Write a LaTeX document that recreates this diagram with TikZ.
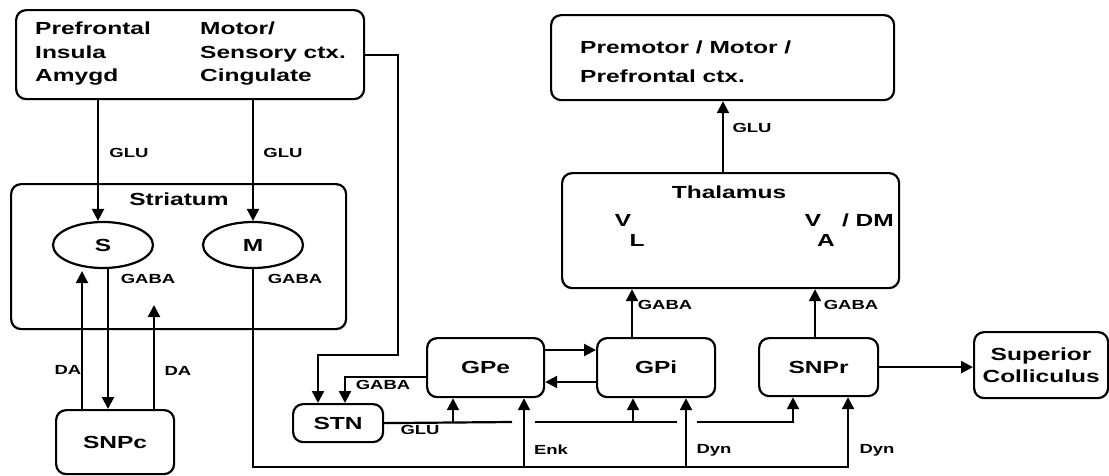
\documentclass[tikz,border=0pt]{standalone}
\usepackage{fontspec}
\setmainfont{Liberation Sans}[FakeStretch=1.4]
\usetikzlibrary{arrows.meta,shapes.geometric}
\newcommand{\bigt}{\fontsize{17.5}{23.5}\selectfont\bfseries}
\newcommand{\smt}{\fontsize{13.2}{14}\selectfont\bfseries}
\begin{document}
\begin{tikzpicture}[x=1pt,y=-1pt,
  box/.style={draw, line width=2.2pt, rounded corners=10pt, anchor=north west, inner sep=0pt, font=\bigt, align=center},
  ell/.style={draw, ellipse, line width=2.2pt, minimum width=100pt, minimum height=46pt, inner sep=0pt, font=\bigt},
  txt/.style={inner sep=0pt, font=\bigt},
  lab/.style={inner sep=0pt, font=\smt},
  ln/.style={line width=2.2pt},
  ar/.style={ln, -{Triangle[length=12pt,width=12pt]}}]
\useasboundingbox (0,0) rectangle (1109,475);
% boxes
\node[box, minimum width=348pt, minimum height=89pt] (cortex) at (15,9) {};
\node[txt, anchor=west, align=left] (ctxl) at (35,54) {Prefrontal\\Insula\\Amygd};
\node[txt, anchor=west, align=left] (ctxr) at (200,54) {Motor/\\Sensory ctx.\\Cingulate};
\node[box, minimum width=335pt, minimum height=145pt] (str) at (10,183) {};
\node[txt] (strt) at (179,199) {Striatum};
\node[ell] (S) at (103,245) {S};
\node[ell] (M) at (253,245) {M};
\node[box, minimum width=118pt, minimum height=64pt] (snpc) at (55,409) {SNPc};
\node[box, minimum width=90pt, minimum height=38pt] (stn) at (292,403) {STN};
\node[box, minimum width=117pt, minimum height=59pt] (gpe) at (426,337) {GPe};
\node[box, minimum width=118pt, minimum height=59pt] (gpi) at (596,337) {GPi};
\node[box, minimum width=119pt, minimum height=58pt] (snpr) at (758,337) {SNPr};
\node[box, minimum width=134pt, minimum height=66pt] (sc) at (973,331) {Superior\\[-1pt]Colliculus};
\node[box, minimum width=337pt, minimum height=115pt] (thal) at (561,172) {};
\node[txt] (thalt) at (729,192) {Thalamus};
\node[txt] (v1) at (623,220) {V};
\node[txt] (l1) at (637,240) {L};
\node[txt] (v2) at (813,220) {V};
\node[txt] (dm) at (868,220) {/ DM};
\node[txt] (a2) at (826,240) {A};
\node[box, minimum width=343pt, minimum height=85pt] (pm) at (550,14) {};
\node[txt, anchor=west] (pm1) at (580,47) {Premotor / Motor /};
\node[txt, anchor=west] (pm2) at (580,76) {Prefrontal ctx.};
% labels
\node[lab] (glu1) at (129,153) {GLU};
\node[lab] (glu2) at (283,153) {GLU};
\node[lab] (glu3) at (752,128) {GLU};
\node[lab] (gabas) at (148,279) {GABA};
\node[lab] (gabam) at (295,279) {GABA};
\node[lab] (da1) at (68,370) {DA};
\node[lab] (da2) at (178,371) {DA};
\node[lab] (gabastn) at (383,385) {GABA};
\node[lab] (glustn) at (420,430) {GLU};
\node[lab] (enk) at (551,450) {Enk};
\node[lab] (dyn1) at (714,450) {Dyn};
\node[lab] (dyn2) at (877,450) {Dyn};
\node[lab] (gabat1) at (665,305) {GABA};
\node[lab] (gabat2) at (851,305) {GABA};
% connectors
\draw[ar] (cortex.south -| 98,0) -- (S.north -| 98,0);
\draw[ar] (cortex.south -| M.north) -- (M.north);
\draw[ar] (cortex.east) -| (398,355) -| (stn.north -| 318,0);
\draw[ar] (gpe.west |- 0,377) -| (stn.north -| 345,0);
\draw[ar] (gpe.east |- 0,350) -- (gpi.west |- 0,350);
\draw[ar] (gpi.west |- 0,382) -- (gpe.east |- 0,382);
\draw[ln] (stn.east) -- (512,422);
\draw[ar] (453,422) -- (gpe.south -| 453,0);
\draw[ln] (535,422) -- (677,422);
\draw[ar] (633,422) -- (gpi.south -| 633,0);
\draw[ar] (697,422) -| (snpr.south -| 793,0);
\draw[ar] (M.south) |- (848,467) -- (snpr.south -| 848,0);
\draw[ar] (524,467) -- (gpe.south -| 524,0);
\draw[ar] (686,467) -- (gpi.south -| 686,0);
\draw[ar] (S.south -| 108,0) -- (snpc.north -| 108,0);
\draw[ar, shorten >=2pt] (snpc.north -| 82,0) -- (S.south -| 82,0);
\coordinate (datip) at (154,305);
\draw[ar] (snpc.north -| datip) -- (datip);
\draw[ar] (gpi.north -| 632,0) -- (thal.south -| 632,0);
\draw[ar] (snpr.north -| 815,0) -- (thal.south -| 815,0);
\draw[ar] (thal.north -| 723,0) -- (pm.south -| 723,0);
\draw[ar] (snpr.east) -- (sc.west |- snpr.east);
\end{tikzpicture}
\end{document}
